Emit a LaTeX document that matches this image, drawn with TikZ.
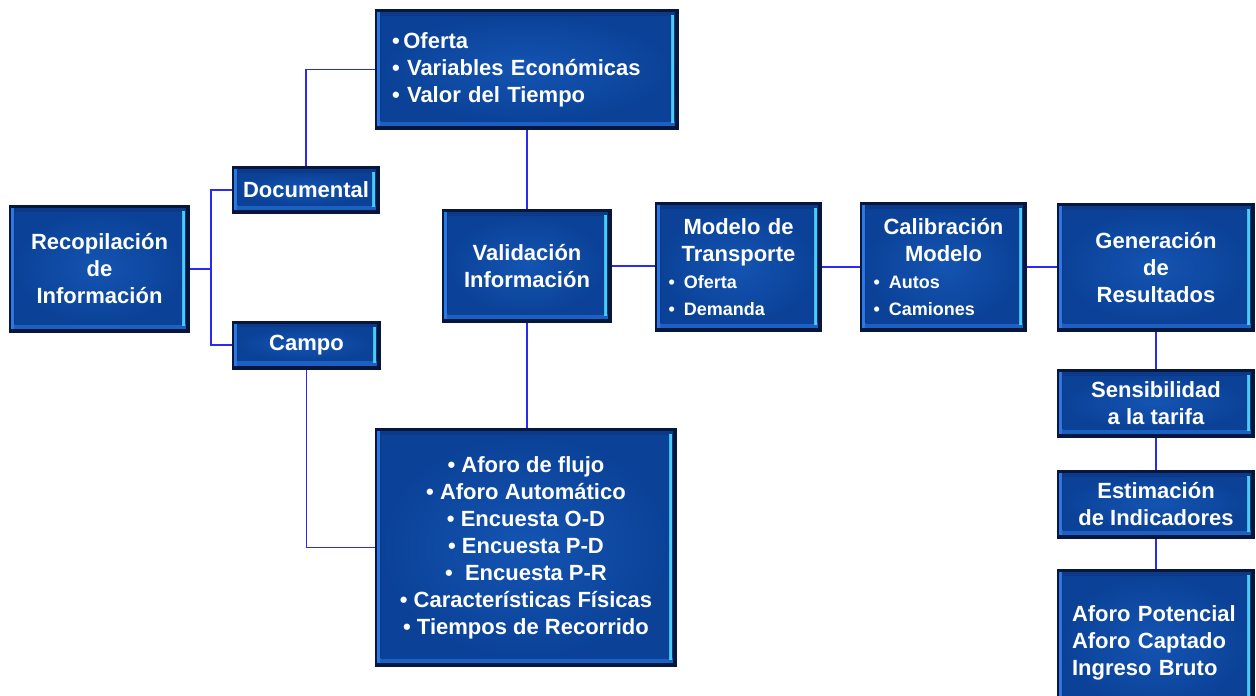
\documentclass[tikz,border=0pt]{standalone}
\usepackage{fontspec}
\setmainfont{Liberation Sans}
\usetikzlibrary{calc}

\definecolor{panelrim}{HTML}{06163D}
\definecolor{panelbevel}{HTML}{0C3A88}
\definecolor{panelbottom}{HTML}{1C60C4}
\definecolor{panelleft}{HTML}{2A78E4}
\definecolor{panelright}{HTML}{48CDF4}
\definecolor{panelin}{HTML}{1454B2}
\definecolor{panelout}{HTML}{0B4298}
\definecolor{wireblue}{HTML}{2A2AF5}

\tikzset{
  panel/.style={rectangle, inner sep=0pt, text=white, align=center,
    font=\bfseries\fontsize{22}{27}\selectfont,
    path picture={
      \fill[panelrim] (path picture bounding box.south west) rectangle (path picture bounding box.north east);
      \fill[panelbevel] ($(path picture bounding box.south west)+(2pt,4pt)$) rectangle ($(path picture bounding box.north east)+(-4pt,-3pt)$);
      \fill[panelbottom] ($(path picture bounding box.south west)+(2pt,4pt)$) rectangle ($(path picture bounding box.south east)+(-4pt,9pt)$);
      \fill[panelleft] ($(path picture bounding box.south west)+(2pt,4pt)$) rectangle ($(path picture bounding box.north west)+(5pt,-3pt)$);
      \fill[panelright] ($(path picture bounding box.south east)+(-8pt,7pt)$) rectangle ($(path picture bounding box.north east)+(-5pt,-6pt)$);
      \shade[inner color=panelin, outer color=panelout] ($(path picture bounding box.south west)+(6pt,9pt)$) rectangle ($(path picture bounding box.north east)+(-8pt,-7pt)$);
    }},
  wire/.style={draw=wireblue, line width=1.4pt},
}
\newcommand{\bul}[1]{\makebox[\linewidth][l]{\fontsize{18}{26}\selectfont\textbullet\hspace{9pt}#1}}

\begin{document}
\begin{tikzpicture}[x=1pt, y=-1pt]
  \useasboundingbox (0,0) rectangle (1256,696);
  \clip (0,0) rectangle (1256,696);

  % left column
  \node[panel, minimum width=181, minimum height=128] (recop) at (99.5,269) {Recopilación\\de\\Información};
  \node[panel, minimum width=148, minimum height=48] (docum) at (306,190) {Documental};
  \node[panel, minimum width=149, minimum height=49] (campo) at (306.5,345) {Campo};
  \coordinate (junct) at (211,269);

  % middle column
  \node[panel, minimum width=304, minimum height=121, text width=270, align=left] (ofer) at (527,69.5)
    {\textbullet\,Oferta\\\textbullet\ Variables Económicas\\\textbullet\ Valor del Tiempo};
  \node[panel, minimum width=170, minimum height=114] (valid) at (527,266) {Validación\\Información};
  \node[panel, minimum width=302, minimum height=239] (aforos) at (526,547.5)
    {\textbullet\ Aforo de  flujo\\\textbullet\ Aforo Automático\\\textbullet\ Encuesta O-D\\\textbullet\ Encuesta P-D\\\textbullet\ \ Encuesta P-R\\\textbullet\ Características Físicas\\\textbullet\ Tiempos de Recorrido};

  % right part
  \node[panel, minimum width=167, minimum height=130, text width=140] (model) at (738.5,267)
    {Modelo de\\Transporte\\\bul{Oferta}\\\bul{Demanda}};
  \node[panel, minimum width=167, minimum height=130, text width=140] (calib) at (943.5,267)
    {Calibración\\Modelo\\\bul{Autos}\\\bul{Camiones}};
  \node[panel, minimum width=198, minimum height=129] (gener) at (1156,267.5) {Generación\\de\\Resultados};
  \node[panel, minimum width=198, minimum height=69] (sensib) at (1156,403.5) {Sensibilidad\\a la tarifa};
  \node[panel, minimum width=198, minimum height=69] (estim) at (1156,504.5) {Estimación\\de Indicadores};
  \node[panel, minimum width=198, minimum height=148, text width=168, align=left] (aforo) at (1156,643)
    {Aforo Potencial\\Aforo Captado\\Ingreso Bruto};

  % connectors
  \draw[wire, line width=2.6pt] (recop.east) -- (junct);
  \draw[wire] (docum.west) -| (junct);
  \draw[wire] (campo.west) -| (junct);
  \draw[wire] (docum.north) |- (ofer.west);
  \draw[wire] (campo.south) |- (aforos.west);
  \draw[wire] (ofer.south) -- (valid.north);
  \draw[wire] (valid.south) -- (valid.south |- aforos.north);
  \draw[wire] (valid.east) -- (valid.east -| model.west);
  \draw[wire] (model.east) -- (calib.west);
  \draw[wire] (calib.east) -- (calib.east -| gener.west);
  \draw[wire] (gener.south) -- (sensib.north);
  \draw[wire] (sensib.south) -- (estim.north);
  \draw[wire] (estim.south) -- (aforo.north);
\end{tikzpicture}
\end{document}
